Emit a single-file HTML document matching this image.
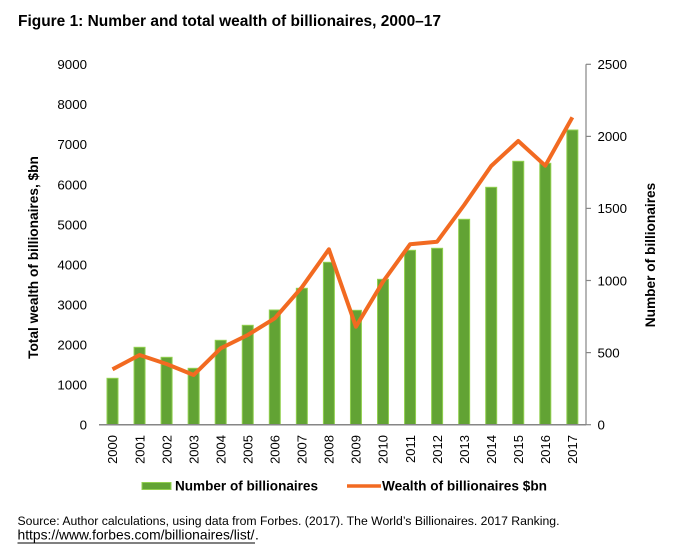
<!DOCTYPE html>
<html>
<head>
<meta charset="utf-8">
<style>
  html, body { margin: 0; padding: 0; background: #ffffff; }
  body { width: 673px; height: 555px; overflow: hidden; }
  svg { display: block; font-family: "Liberation Sans", Arial, sans-serif; }
</style>
</head>
<body>
<svg width="673" height="555" viewBox="0 0 673 555" xmlns="http://www.w3.org/2000/svg">
  <rect x="0" y="0" width="673" height="555" fill="#ffffff"/>

  <!-- Title -->
  <text x="18" y="26" font-size="15.4" font-weight="bold" fill="#000" textLength="423" lengthAdjust="spacingAndGlyphs">Figure 1: Number and total wealth of billionaires, 2000–17</text>

  <!-- Left axis labels -->
  <g font-size="13.3" fill="#000" text-anchor="end">
    <text x="87" y="429.5">0</text>
    <text x="87" y="389.5">1000</text>
    <text x="87" y="349.4">2000</text>
    <text x="87" y="309.4">3000</text>
    <text x="87" y="269.3">4000</text>
    <text x="87" y="229.3">5000</text>
    <text x="87" y="189.3">6000</text>
    <text x="87" y="149.2">7000</text>
    <text x="87" y="109.2">8000</text>
    <text x="87" y="69.1">9000</text>
  </g>

  <!-- Left axis title -->
  <text transform="translate(38,257.5) rotate(-90)" text-anchor="middle" font-size="13.7" font-weight="bold" fill="#000">Total wealth of billionaires, $bn</text>

  <!-- Right axis -->
  <g stroke="#868686" stroke-width="1.2">
    <line x1="586" y1="64.3" x2="586" y2="424.7"/>
    <line x1="586" y1="64.3" x2="591" y2="64.3"/>
    <line x1="586" y1="136.4" x2="591" y2="136.4"/>
    <line x1="586" y1="208.4" x2="591" y2="208.4"/>
    <line x1="586" y1="280.5" x2="591" y2="280.5"/>
    <line x1="586" y1="352.6" x2="591" y2="352.6"/>
    <line x1="586" y1="424.7" x2="591" y2="424.7"/>
  </g>
  <g font-size="13.3" fill="#000">
    <text x="597.5" y="429.5">0</text>
    <text x="597.5" y="357.4">500</text>
    <text x="597.5" y="285.3">1000</text>
    <text x="597.5" y="213.2">1500</text>
    <text x="597.5" y="141.2">2000</text>
    <text x="597.5" y="69.1">2500</text>
  </g>

  <!-- Right axis title -->
  <text transform="translate(655,255) rotate(-90)" text-anchor="middle" font-size="13.7" font-weight="bold" fill="#000">Number of billionaires</text>

  <!-- Bars -->
  <g fill="#62a334" stroke="#92d050" stroke-width="1">
    <rect x="107" y="378.3" width="11" height="46.4"/>
    <rect x="134.05" y="347.3" width="11" height="77.4"/>
    <rect x="161.1" y="357.3" width="11" height="67.4"/>
    <rect x="188.15" y="368.3" width="11" height="56.4"/>
    <rect x="215.2" y="340.3" width="11" height="84.4"/>
    <rect x="242.25" y="325.3" width="11" height="99.4"/>
    <rect x="269.3" y="310" width="11" height="114.7"/>
    <rect x="296.35" y="288.3" width="11" height="136.4"/>
    <rect x="323.4" y="262.3" width="11" height="162.4"/>
    <rect x="350.45" y="310.3" width="11" height="114.4"/>
    <rect x="377.5" y="279.3" width="11" height="145.4"/>
    <rect x="404.55" y="250.3" width="11" height="174.4"/>
    <rect x="431.6" y="248.3" width="11" height="176.4"/>
    <rect x="458.65" y="219.3" width="11" height="205.4"/>
    <rect x="485.7" y="187.3" width="11" height="237.4"/>
    <rect x="512.75" y="161.3" width="11" height="263.4"/>
    <rect x="539.8" y="163.3" width="11" height="261.4"/>
    <rect x="566.85" y="130" width="11" height="294.7"/>
  </g>

  <!-- Baseline -->
  <line x1="99" y1="424.7" x2="586" y2="424.7" stroke="#868686" stroke-width="1.5"/>

  <!-- Wealth line -->
  <polyline fill="none" stroke="#f26a21" stroke-width="4" stroke-linejoin="round" stroke-linecap="butt"
    points="112.5,369.3 139.55,355 166.6,364 193.65,375 220.7,348.3 247.75,335 274.8,318.3 301.85,287.3 328.9,249.3 355.95,326.7 383,281.7 410.05,244.3 437.1,241.7 464.15,205 491.2,166 518.25,141 545.3,165.7 572.35,117.3"/>

  <!-- Year labels -->
  <g font-size="13" fill="#000" text-anchor="end">
    <text transform="translate(117.2,435) rotate(-90)">2000</text>
    <text transform="translate(144.25,435) rotate(-90)">2001</text>
    <text transform="translate(171.3,435) rotate(-90)">2002</text>
    <text transform="translate(198.35,435) rotate(-90)">2003</text>
    <text transform="translate(225.4,435) rotate(-90)">2004</text>
    <text transform="translate(252.45,435) rotate(-90)">2005</text>
    <text transform="translate(279.5,435) rotate(-90)">2006</text>
    <text transform="translate(306.55,435) rotate(-90)">2007</text>
    <text transform="translate(333.6,435) rotate(-90)">2008</text>
    <text transform="translate(360.65,435) rotate(-90)">2009</text>
    <text transform="translate(387.7,435) rotate(-90)">2010</text>
    <text transform="translate(414.75,435) rotate(-90)">2011</text>
    <text transform="translate(441.8,435) rotate(-90)">2012</text>
    <text transform="translate(468.85,435) rotate(-90)">2013</text>
    <text transform="translate(495.9,435) rotate(-90)">2014</text>
    <text transform="translate(522.95,435) rotate(-90)">2015</text>
    <text transform="translate(550,435) rotate(-90)">2016</text>
    <text transform="translate(577.05,435) rotate(-90)">2017</text>
  </g>

  <!-- Legend -->
  <rect x="142" y="482.5" width="29" height="7" fill="#62a334" stroke="#92d050" stroke-width="1"/>
  <text x="175" y="490.5" font-size="13.5" font-weight="bold" fill="#000" textLength="143" lengthAdjust="spacingAndGlyphs">Number of billionaires</text>
  <line x1="347" y1="486" x2="381" y2="486" stroke="#f26a21" stroke-width="3.5"/>
  <text x="382" y="490.5" font-size="13.5" font-weight="bold" fill="#000" textLength="165" lengthAdjust="spacingAndGlyphs">Wealth of billionaires $bn</text>

  <!-- Source -->
  <text x="17.5" y="525" font-size="12.2" fill="#000" textLength="542" lengthAdjust="spacingAndGlyphs">Source: Author calculations, using data from Forbes. (2017). The World’s Billionaires. 2017 Ranking.</text>
  <text x="17.5" y="539.5" font-size="13.8" fill="#000" textLength="237" lengthAdjust="spacingAndGlyphs">https://www.forbes.com/billionaires/list/</text>
  <text x="255" y="539.5" font-size="13.8" fill="#000">.</text>
  <line x1="17.5" y1="543" x2="255" y2="543" stroke="#000" stroke-width="1"/>
</svg>
</body>
</html>
